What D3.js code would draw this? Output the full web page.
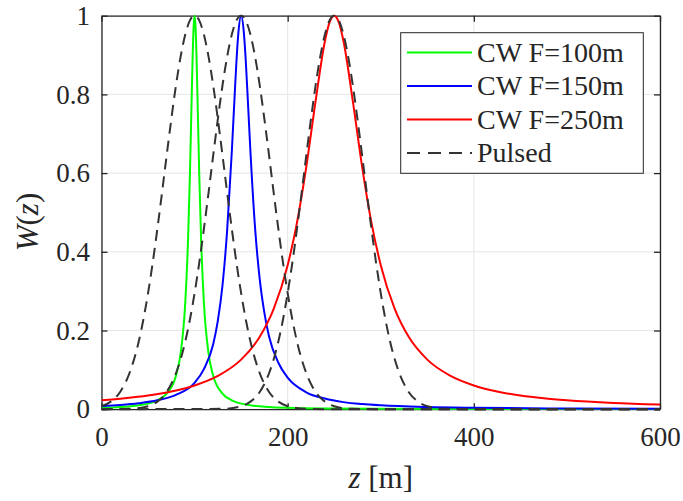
<!DOCTYPE html>
<html>
<head>
<meta charset="utf-8">
<script src="https://cdn.jsdelivr.net/npm/d3@7"></script>
<style>
  body { margin: 0; background: #fff; }
  svg text { font-family: "Times New Roman", Times, "Liberation Serif", "DejaVu Serif", "Noto Serif", serif; }
</style>
</head>
<body>
<script>
// values
const xTicks = [0, 200, 400, 600];
const yTicks = [0, 0.2, 0.4, 0.6, 0.8, 1];
const yTickLabels = ["0", "0.2", "0.4", "0.6", "0.8", "1"];
const seriesNames = ["CW F=100m", "CW F=150m", "CW F=250m", "Pulsed"];

const zCw100 = [0, 20, 40, 60, 70, 80, 85, 90, 93, 95, 97, 98, 99, 100, 101, 102, 103, 105, 107, 110, 115, 120, 130, 140, 160, 180, 200, 250, 300, 400, 500, 600];
const wCw100 = [0.0037, 0.0058, 0.0102, 0.0227, 0.0397, 0.0851, 0.142, 0.271, 0.432, 0.598, 0.805, 0.903, 0.974, 1, 0.974, 0.903, 0.805, 0.598, 0.432, 0.271, 0.142, 0.0851, 0.0397, 0.0227, 0.0102, 0.0058, 0.0037, 0.0017, 0.0009, 0.0004, 0.0002, 0.0002];

const zCw150 = [0, 20, 40, 60, 80, 100, 110, 120, 125, 130, 135, 140, 143, 145, 147, 150, 153, 155, 157, 160, 165, 170, 175, 180, 190, 200, 220, 240, 260, 280, 300, 350, 400, 500, 600];
const wCw150 = [0.0075, 0.0105, 0.015, 0.0225, 0.0365, 0.067, 0.102, 0.165, 0.225, 0.315, 0.455, 0.655, 0.795, 0.885, 0.955, 1, 0.955, 0.885, 0.795, 0.655, 0.46, 0.33, 0.245, 0.185, 0.118, 0.08, 0.043, 0.027, 0.018, 0.013, 0.0098, 0.0055, 0.0035, 0.0018, 0.0011];

const zCw250 = [0, 25, 50, 75, 100, 125, 150, 170, 185, 200, 210, 220, 230, 240, 245, 250, 255, 260, 270, 280, 290, 300, 315, 330, 350, 375, 400, 425, 450, 475, 500, 550, 600];
const wCw250 = [0.0226, 0.0277, 0.0348, 0.045, 0.0603, 0.0846, 0.126, 0.184, 0.255, 0.366, 0.474, 0.616, 0.783, 0.935, 0.983, 1, 0.983, 0.935, 0.783, 0.616, 0.474, 0.366, 0.255, 0.184, 0.126, 0.0846, 0.0603, 0.045, 0.0348, 0.0277, 0.0226, 0.0158, 0.0117];

const zPulsed100 = [0, 10, 20, 30, 40, 45, 50, 55, 60, 65, 70, 75, 80, 85, 90, 95, 100, 105, 110, 115, 120, 125, 130, 135, 140, 145, 150, 155, 160, 170, 180, 190, 200, 220, 250, 600];
const wPulsed100 = [0.0076, 0.0192, 0.0439, 0.0914, 0.172, 0.228, 0.295, 0.372, 0.458, 0.55, 0.645, 0.737, 0.823, 0.896, 0.952, 0.988, 1, 0.988, 0.952, 0.896, 0.823, 0.737, 0.645, 0.55, 0.458, 0.372, 0.295, 0.228, 0.172, 0.0914, 0.0439, 0.0192, 0.0076, 0.0009, 0, 0];

const zPulsed150 = [0, 30, 50, 60, 70, 80, 90, 95, 100, 105, 110, 115, 120, 125, 130, 135, 140, 145, 150, 155, 160, 165, 170, 175, 180, 185, 190, 195, 200, 205, 210, 220, 230, 240, 250, 270, 300, 600];
const wPulsed150 = [0, 0.0009, 0.0076, 0.0192, 0.0439, 0.0914, 0.172, 0.228, 0.295, 0.372, 0.458, 0.55, 0.645, 0.737, 0.823, 0.896, 0.952, 0.988, 1, 0.988, 0.952, 0.896, 0.823, 0.737, 0.645, 0.55, 0.458, 0.372, 0.295, 0.228, 0.172, 0.0914, 0.0439, 0.0192, 0.0076, 0.0009, 0, 0];

const zPulsed250 = [0, 130, 150, 160, 170, 180, 190, 195, 200, 205, 210, 215, 220, 225, 230, 235, 240, 245, 250, 255, 260, 265, 270, 275, 280, 285, 290, 295, 300, 305, 310, 320, 330, 340, 350, 370, 400, 600];
const wPulsed250 = [0, 0.0009, 0.0076, 0.0192, 0.0439, 0.0914, 0.172, 0.228, 0.295, 0.372, 0.458, 0.55, 0.645, 0.737, 0.823, 0.896, 0.952, 0.988, 1, 0.988, 0.952, 0.896, 0.823, 0.737, 0.645, 0.55, 0.458, 0.372, 0.295, 0.228, 0.172, 0.0914, 0.0439, 0.0192, 0.0076, 0.0009, 0, 0];

const svgWidth = 683;
const svgHeight = 501;
const plot = { left: 101.5, right: 660, top: 15.7, bottom: 409.2 };
const axisColor = "#262626";

const graph = d3.select("body")
    .append("svg").attr("width", svgWidth).attr("height", svgHeight);

const x = d3.scaleLinear().domain([0, 600]).range([plot.left, plot.right]);
const y = d3.scaleLinear().domain([0, 1]).range([plot.bottom, plot.top]);

graph.append("defs").append("clipPath").attr("id", "plotClip")
    .append("rect")
    .attr("x", plot.left).attr("y", plot.top - 2)
    .attr("width", plot.right - plot.left).attr("height", plot.bottom - plot.top + 4);

// grid
const grid = graph.append("g").attr("stroke", "#e6e6e6").attr("stroke-width", 1);
grid.selectAll(".gx").data(xTicks).join("line")
    .attr("x1", d => x(d)).attr("x2", d => x(d))
    .attr("y1", plot.top).attr("y2", plot.bottom);
grid.selectAll(".gy").data(yTicks).join("line")
    .attr("y1", d => y(d)).attr("y2", d => y(d))
    .attr("x1", plot.left).attr("x2", plot.right);

// axes (ticks point inward, box on)
function styleAxis(g) {
    g.attr("font-family", null).attr("font-size", 27);
    g.select(".domain").attr("stroke", axisColor).attr("stroke-width", 1.3);
    g.selectAll(".tick line").attr("stroke", axisColor).attr("stroke-width", 1.3);
    g.selectAll(".tick text").attr("fill", axisColor);
}

graph.append("g")
    .attr("transform", `translate(0, ${plot.bottom})`)
    .call(d3.axisBottom(x).tickValues(xTicks).tickSize(-6).tickSizeOuter(0).tickPadding(18))
    .call(styleAxis);

graph.append("g")
    .attr("transform", `translate(0, ${plot.top})`)
    .call(d3.axisTop(x).tickValues(xTicks).tickSize(-6).tickSizeOuter(0).tickFormat(""))
    .call(styleAxis);

graph.append("g")
    .attr("transform", `translate(${plot.left}, 0)`)
    .call(d3.axisLeft(y).tickValues(yTicks).tickSize(-6).tickSizeOuter(0).tickPadding(11.5)
        .tickFormat((d, i) => yTickLabels[i]))
    .call(styleAxis);

graph.append("g")
    .attr("transform", `translate(${plot.right}, 0)`)
    .call(d3.axisRight(y).tickValues(yTicks).tickSize(-6).tickSizeOuter(0).tickFormat(""))
    .call(styleAxis);

// curves
const line = d3.line()
    .x(d => x(d[0]))
    .y(d => y(d[1]))
    .curve(d3.curveMonotoneX);

const series = [
    { z: zCw100, w: wCw100, color: "#00ff00", dash: null },
    { z: zCw150, w: wCw150, color: "#0000ff", dash: null },
    { z: zCw250, w: wCw250, color: "#ff0000", dash: null },
    { z: zPulsed100, w: wPulsed100, color: "#333333", dash: "11,7" },
    { z: zPulsed150, w: wPulsed150, color: "#333333", dash: "11,7" },
    { z: zPulsed250, w: wPulsed250, color: "#333333", dash: "11,7" }
];

const curves = graph.append("g").attr("clip-path", "url(#plotClip)");
series.forEach(s => {
    curves.append("path")
        .datum(d3.zip(s.z, s.w))
        .attr("d", line)
        .attr("fill", "none")
        .attr("stroke", s.color)
        .attr("stroke-width", 2)
        .attr("stroke-dasharray", s.dash);
});

// axis labels
graph.append("text")
    .attr("x", (plot.left + plot.right) / 2)
    .attr("y", 488)
    .attr("text-anchor", "middle")
    .attr("font-size", 31)
    .attr("fill", axisColor)
    .call(t => {
        t.append("tspan").attr("font-style", "italic").text("z");
        t.append("tspan").text(" [m]");
    });

graph.append("text")
    .attr("transform", "translate(38, 222) rotate(-90)")
    .attr("text-anchor", "middle")
    .attr("font-size", 31)
    .attr("fill", axisColor)
    .call(t => {
        t.append("tspan").attr("font-style", "italic").text("W");
        t.append("tspan").text("(");
        t.append("tspan").attr("font-style", "italic").text("z");
        t.append("tspan").text(")");
    });

// legend
const legendColors = ["#00ff00", "#0000ff", "#ff0000", "#333333"];
const legend = graph.append("g");
legend.append("rect")
    .attr("x", 400.7).attr("y", 32.7)
    .attr("width", 242.6).attr("height", 140.6)
    .attr("fill", "#fff")
    .attr("stroke", axisColor)
    .attr("stroke-width", 1);

const rows = legend.selectAll(".row").data(seriesNames).join("g")
    .attr("transform", (d, i) => `translate(0, ${52.5 + i * 33.5})`);

rows.append("line")
    .attr("x1", 407).attr("x2", 472)
    .attr("stroke", (d, i) => legendColors[i])
    .attr("stroke-width", 2)
    .attr("stroke-dasharray", (d, i) => i == 3 ? "13,8" : null);

rows.append("text")
    .attr("x", 477)
    .attr("dy", "0.33em")
    .attr("font-size", 28)
    .attr("fill", axisColor)
    .text(d => d);
</script>
</body>
</html>
